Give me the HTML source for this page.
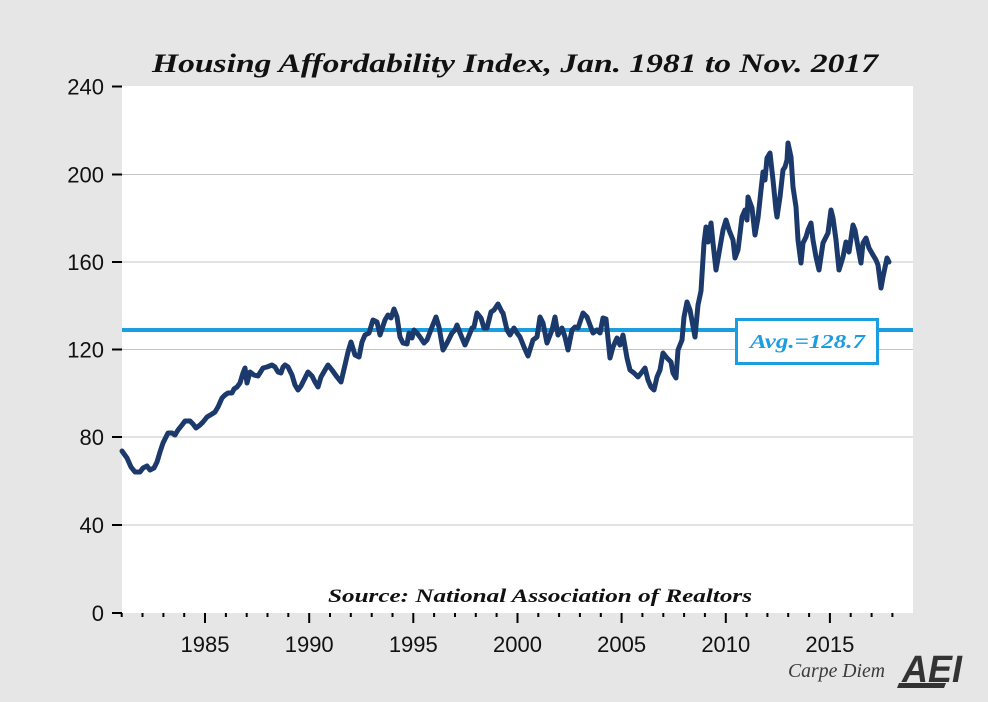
<!DOCTYPE html>
<html>
<head>
<meta charset="utf-8">
<style>
  html,body{margin:0;padding:0;background:#e6e6e6;}
  svg{display:block;}
</style>
</head>
<body>
<svg width="988" height="702" viewBox="0 0 988 702" xmlns="http://www.w3.org/2000/svg">
  <rect x="0" y="0" width="988" height="702" fill="#e6e6e6"/>
  <!-- title -->
  <text x="152" y="72" font-family="'Liberation Serif', serif" font-weight="bold" font-style="italic" font-size="26" fill="#111" textLength="726" lengthAdjust="spacingAndGlyphs">Housing Affordability Index, Jan. 1981 to Nov. 2017</text>
  <!-- plot area -->
  <rect x="122" y="86" width="791" height="527" fill="#ffffff"/>
  <!-- gridlines -->
  <g stroke="#c4c4c4" stroke-width="1">
    <line x1="122" y1="174.5" x2="913" y2="174.5"/>
    <line x1="122" y1="262" x2="913" y2="262"/>
    <line x1="122" y1="349.5" x2="913" y2="349.5"/>
    <line x1="122" y1="437" x2="913" y2="437"/>
    <line x1="122" y1="525" x2="913" y2="525"/>
  </g>
  <!-- y ticks -->
  <g stroke="#000" stroke-width="2">
    <line x1="112" y1="86.5" x2="122" y2="86.5"/>
    <line x1="112" y1="174.5" x2="122" y2="174.5"/>
    <line x1="112" y1="262" x2="122" y2="262"/>
    <line x1="112" y1="349.5" x2="122" y2="349.5"/>
    <line x1="112" y1="437" x2="122" y2="437"/>
    <line x1="112" y1="525" x2="122" y2="525"/>
    <line x1="112" y1="613" x2="122" y2="613"/>
  </g>
  <g font-family="'Liberation Sans', Arial, sans-serif" font-size="22" fill="#111" text-anchor="end">
    <text x="104" y="94.5">240</text>
    <text x="104" y="182.5">200</text>
    <text x="104" y="270">160</text>
    <text x="104" y="357.5">120</text>
    <text x="104" y="445">80</text>
    <text x="104" y="533">40</text>
    <text x="104" y="621">0</text>
  </g>
  <!-- x ticks -->
  <g stroke="#000" stroke-width="2">
    <line x1="121.7" y1="613" x2="121.7" y2="617"/>
    <line x1="142.5" y1="613" x2="142.5" y2="617"/>
    <line x1="163.4" y1="613" x2="163.4" y2="617"/>
    <line x1="184.2" y1="613" x2="184.2" y2="617"/>
    <line x1="205.0" y1="613" x2="205.0" y2="623"/>
    <line x1="225.9" y1="613" x2="225.9" y2="617"/>
    <line x1="246.7" y1="613" x2="246.7" y2="617"/>
    <line x1="267.5" y1="613" x2="267.5" y2="617"/>
    <line x1="288.3" y1="613" x2="288.3" y2="617"/>
    <line x1="309.2" y1="613" x2="309.2" y2="623"/>
    <line x1="330.0" y1="613" x2="330.0" y2="617"/>
    <line x1="350.8" y1="613" x2="350.8" y2="617"/>
    <line x1="371.7" y1="613" x2="371.7" y2="617"/>
    <line x1="392.5" y1="613" x2="392.5" y2="617"/>
    <line x1="413.3" y1="613" x2="413.3" y2="623"/>
    <line x1="434.1" y1="613" x2="434.1" y2="617"/>
    <line x1="455.0" y1="613" x2="455.0" y2="617"/>
    <line x1="475.8" y1="613" x2="475.8" y2="617"/>
    <line x1="496.6" y1="613" x2="496.6" y2="617"/>
    <line x1="517.5" y1="613" x2="517.5" y2="623"/>
    <line x1="538.3" y1="613" x2="538.3" y2="617"/>
    <line x1="559.1" y1="613" x2="559.1" y2="617"/>
    <line x1="579.9" y1="613" x2="579.9" y2="617"/>
    <line x1="600.8" y1="613" x2="600.8" y2="617"/>
    <line x1="621.6" y1="613" x2="621.6" y2="623"/>
    <line x1="642.4" y1="613" x2="642.4" y2="617"/>
    <line x1="663.3" y1="613" x2="663.3" y2="617"/>
    <line x1="684.1" y1="613" x2="684.1" y2="617"/>
    <line x1="704.9" y1="613" x2="704.9" y2="617"/>
    <line x1="725.8" y1="613" x2="725.8" y2="623"/>
    <line x1="746.6" y1="613" x2="746.6" y2="617"/>
    <line x1="767.4" y1="613" x2="767.4" y2="617"/>
    <line x1="788.2" y1="613" x2="788.2" y2="617"/>
    <line x1="809.1" y1="613" x2="809.1" y2="617"/>
    <line x1="829.9" y1="613" x2="829.9" y2="623"/>
    <line x1="850.7" y1="613" x2="850.7" y2="617"/>
    <line x1="871.6" y1="613" x2="871.6" y2="617"/>
    <line x1="892.4" y1="613" x2="892.4" y2="617"/>
  </g>
  <g font-family="'Liberation Sans', Arial, sans-serif" font-size="22" fill="#111" text-anchor="middle">
    <text x="205" y="652">1985</text>
    <text x="309.2" y="652">1990</text>
    <text x="413.3" y="652">1995</text>
    <text x="517.5" y="652">2000</text>
    <text x="621.6" y="652">2005</text>
    <text x="725.8" y="652">2010</text>
    <text x="829.9" y="652">2015</text>
  </g>
  <!-- average line -->
  <line x1="122" y1="330" x2="913" y2="330" stroke="#1a9ee0" stroke-width="4"/>
  <!-- data line -->
  <polyline fill="none" stroke="#1b3a6b" stroke-width="5" stroke-linejoin="round" stroke-linecap="round"
    points="122,451 127,458 131,467 135,472 140,472 143,468 147,466 150,470 154,468 157,462 160,452 163,443 168,433 172,433 175,435 178,430 182,425 185,421 190,421 193,424 196,428 200,425 203,422 207,417 212,414 215,412 218,407 222,398 225,395 228,393 232,393 234,389 237,387 240,383 243,373 245,368 247,383 250,372 254,375 258,376 263,368 267,367 272,365 275,367 278,372 281,373 283,367 285,365 288,367 292,375 295,385 298,390 301,386 305,378 308,372 312,376 315,382 318,387 321,377 325,370 328,365 332,370 337,377 341,382 345,365 348,352 351,342 355,355 359,357 362,342 365,335 369,333 373,320 377,322 380,335 385,320 388,315 391,318 394,309 397,317 400,337 403,343 407,344 409,333 412,338 414,330 417,333 420,337 424,343 427,340 432,327 436,317 439,327 443,350 447,343 452,333 455,330 457,325 460,333 465,345 468,338 472,328 474,327 477,313 481,318 484,328 487,328 491,312 494,310 498,304 502,312 503,313 507,330 510,335 514,328 517,333 520,337 524,347 528,356 533,340 537,337 540,317 543,323 547,343 552,330 555,317 558,335 562,328 565,337 568,350 572,330 575,327 578,328 583,313 587,317 590,325 593,333 597,330 600,333 603,318 606,319 610,358 613,347 617,338 620,345 623,335 627,358 630,370 634,373 638,377 642,372 645,368 648,380 651,387 654,390 657,377 660,370 663,353 667,358 671,362 673,373 676,378 678,350 682,340 684,317 687,302 690,310 695,337 698,305 701,291 704,243 706,227 708,242 711,223 713,243 716,270 719,253 723,230 726,220 729,230 733,240 735,258 738,250 742,217 745,210 747,220 748,197 752,208 755,235 758,218 761,190 763,172 765,180 767,158 770,153 773,180 776,210 777,217 780,197 783,170 785,167 787,160 788,143 791,157 793,187 796,207 798,240 801,263 803,243 806,237 808,230 811,223 813,240 816,257 819,270 823,243 826,237 828,233 831,210 833,218 836,240 839,270 843,257 846,242 849,252 853,225 855,230 858,247 861,263 863,243 866,238 869,248 873,255 876,260 878,265 881,288 883,277 887,258 889,262"/>
  <!-- average box -->
  <rect x="736.5" y="319.5" width="141" height="44" fill="#ffffff" stroke="#1a9ee0" stroke-width="3"/>
  <text x="750" y="348" font-family="'Liberation Serif', serif" font-weight="bold" font-style="italic" font-size="20" fill="#1a9ee0" textLength="115" lengthAdjust="spacingAndGlyphs">Avg.=128.7</text>
  <!-- source -->
  <text x="328" y="602" font-family="'Liberation Serif', serif" font-weight="bold" font-style="italic" font-size="19" fill="#111" textLength="424" lengthAdjust="spacingAndGlyphs">Source: National Association of Realtors</text>
  <!-- footer -->
  <text x="788" y="677" font-family="'Liberation Serif', serif" font-style="italic" font-size="20" fill="#3a3a3a" textLength="97" lengthAdjust="spacingAndGlyphs">Carpe Diem</text>
  <g fill="#333">
    <text x="902" y="682" font-family="'Liberation Sans', Arial, sans-serif" font-weight="bold" font-style="italic" font-size="38" textLength="60" lengthAdjust="spacingAndGlyphs">AEI</text>
    <polygon points="897,688 944,688 946,683 899,683"/>
  </g>
</svg>
</body>
</html>
